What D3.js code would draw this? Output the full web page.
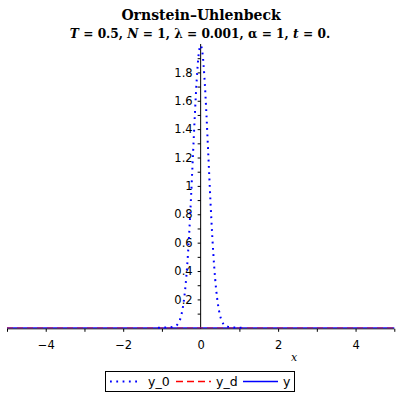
<!DOCTYPE html>
<html><head><meta charset="utf-8">
<script src="https://cdn.jsdelivr.net/npm/d3@7"></script>
<style>body{margin:0;background:#fff}svg{display:block}</style>
</head><body>
<svg id="c" width="400" height="400"></svg>
<script>
// data
const xs  = [-1.1, -1.0, -0.9, -0.8, -0.7, -0.6, -0.55, -0.5, -0.45, -0.4, -0.35, -0.3, -0.25, -0.2, -0.15, -0.1, -0.05, 0, 0.05, 0.1, 0.15, 0.2, 0.25, 0.3, 0.35, 0.4, 0.45, 0.5, 0.55, 0.6, 0.7, 0.8, 0.9, 1.0, 1.1];
const y0v = [0, 0.001, 0.002, 0.004, 0.008, 0.023, 0.046, 0.088, 0.16, 0.27, 0.43, 0.645, 0.91, 1.205, 1.50, 1.755, 1.93, 1.99, 1.93, 1.755, 1.50, 1.205, 0.91, 0.645, 0.43, 0.27, 0.16, 0.088, 0.046, 0.023, 0.008, 0.004, 0.002, 0.001, 0];
const ydx = [-5, 5];
const ydv = [0, 0];
const yx  = [-5, 5];
const yv  = [0, 0];
const xTicks = [-4, -2, 0, 2, 4];
const xMinor = [-5, -4, -3, -2, -1, 1, 2, 3, 4, 5];
const yTicks = [0.2, 0.4, 0.6, 0.8, 1, 1.2, 1.4, 1.6, 1.8];
const yMinor = [0.1, 0.2, 0.3, 0.4, 0.5, 0.6, 0.7, 0.8, 0.9, 1, 1.1, 1.2, 1.3, 1.4, 1.5, 1.6, 1.7, 1.8, 1.9];
const legendNames = ["y_0", "y_d", "y"];

const svg = d3.select("#c");
const x = d3.scaleLinear().domain([-5, 5]).range([7, 394.3]);
const y = d3.scaleLinear().domain([0, 2]).range([327.8, 44]);

// axes
const gx = svg.append("g").attr("transform", `translate(0,${y(0) + 1})`);
gx.call(d3.axisBottom(x).tickValues(xMinor).tickSize(3).tickFormat(""))
  .call(g => g.select(".domain").remove());
gx.selectAll(".tick line").attr("stroke", "#000");
gx.append("line").attr("x1", x(-5)).attr("x2", x(5)).attr("stroke", "#000").attr("stroke-width", 1);
const gxl = svg.append("g").attr("transform", `translate(0,${y(0) + 1})`);
gxl.call(d3.axisBottom(x).tickValues(xTicks).tickSize(0).tickPadding(12)
  .tickFormat(d => d === 0 ? "0" : d3.format("")(d).replace("-", "\u2212")))
  .call(g => g.select(".domain").remove());
gxl.selectAll("text").attr("font-family", "DejaVu Sans, sans-serif").attr("font-size", 11.5).attr("fill", "#000");

const gy = svg.append("g").attr("transform", `translate(${x(0)},0)`);
gy.call(d3.axisLeft(y).tickValues(yMinor).tickSize(3).tickFormat(""))
  .call(g => g.select(".domain").remove());
gy.selectAll(".tick line").attr("stroke", "#000");
gy.append("line").attr("y1", y(0) + 1).attr("y2", y(2)).attr("stroke", "#000");
const gyl = svg.append("g").attr("transform", `translate(${x(0)},0)`);
gyl.call(d3.axisLeft(y).tickValues(yTicks).tickSize(0).tickPadding(8).tickFormat(d => d3.format("")(d)))
  .call(g => g.select(".domain").remove());
gyl.selectAll("text").attr("font-family", "DejaVu Sans, sans-serif").attr("font-size", 11.5).attr("fill", "#000");

// lines
const line = d3.line().x(d => x(d[0])).y(d => y(d[1]));
svg.append("path").datum(yx.map((v, i) => [v, yv[i]])).attr("d", line)
  .attr("fill", "none").attr("stroke", "#0000ff").attr("stroke-width", 1);
svg.append("path").datum(ydx.map((v, i) => [v, ydv[i]])).attr("d", line)
  .attr("fill", "none").attr("stroke", "#ff0000").attr("stroke-width", 1).attr("stroke-dasharray", "6,4").attr("opacity", 0.6);
svg.append("path").datum(xs.map((v, i) => [v, y0v[i]])).attr("d", d3.line().curve(d3.curveMonotoneX).x(d => x(d[0])).y(d => y(d[1])))
  .attr("fill", "none").attr("stroke", "#0000ff").attr("stroke-width", 2).attr("stroke-dasharray", "1.8,4.5");

// x label
svg.append("text").attr("x", 294).attr("y", 361).attr("text-anchor", "middle")
  .attr("font-family", "DejaVu Serif, serif").attr("font-style", "italic").attr("font-size", 11).text("x");

// title
svg.append("text").attr("x", 201).attr("y", 20).attr("text-anchor", "middle")
  .attr("font-family", "DejaVu Serif, serif").attr("font-weight", "bold").attr("font-size", 14)
  .text("Ornstein\u2013Uhlenbeck");
const t2 = svg.append("text").attr("x", 200).attr("y", 38).attr("text-anchor", "middle")
  .attr("font-family", "DejaVu Serif, serif").attr("font-weight", "bold").attr("font-size", 12.2);
[["T", 1], [" = 0.5, ", 0], ["N", 1], [" = 1, \u03bb = 0.001, \u03b1 = 1, ", 0], ["t", 1], [" = 0.", 0]]
  .forEach(([s, it]) => t2.append("tspan").attr("font-style", it ? "italic" : "normal").text(s));

// legend
const lg = svg.append("g");
lg.append("rect").attr("x", 105.5).attr("y", 371.5).attr("width", 189).attr("height", 20)
  .attr("fill", "#fff").attr("stroke", "#000");
const items = [
  {name: legendNames[0], x1: 110, x2: 141, color: "#0000ff", dash: "1.8,4.5", w: 2, tx: 148},
  {name: legendNames[1], x1: 176, x2: 211, color: "#ff0000", dash: "7,4", w: 1.5, tx: 216},
  {name: legendNames[2], x1: 243, x2: 278, color: "#0000ff", dash: null, w: 1.5, tx: 283}
];
items.forEach(it => {
  lg.append("line").attr("x1", it.x1).attr("x2", it.x2).attr("y1", 381.5).attr("y2", 381.5)
    .attr("stroke", it.color).attr("stroke-width", it.w).attr("stroke-dasharray", it.dash);
  lg.append("text").attr("x", it.tx).attr("y", 386).attr("font-family", "DejaVu Sans, sans-serif")
    .attr("font-size", 12.5).text(it.name);
});
</script>
</body></html>
